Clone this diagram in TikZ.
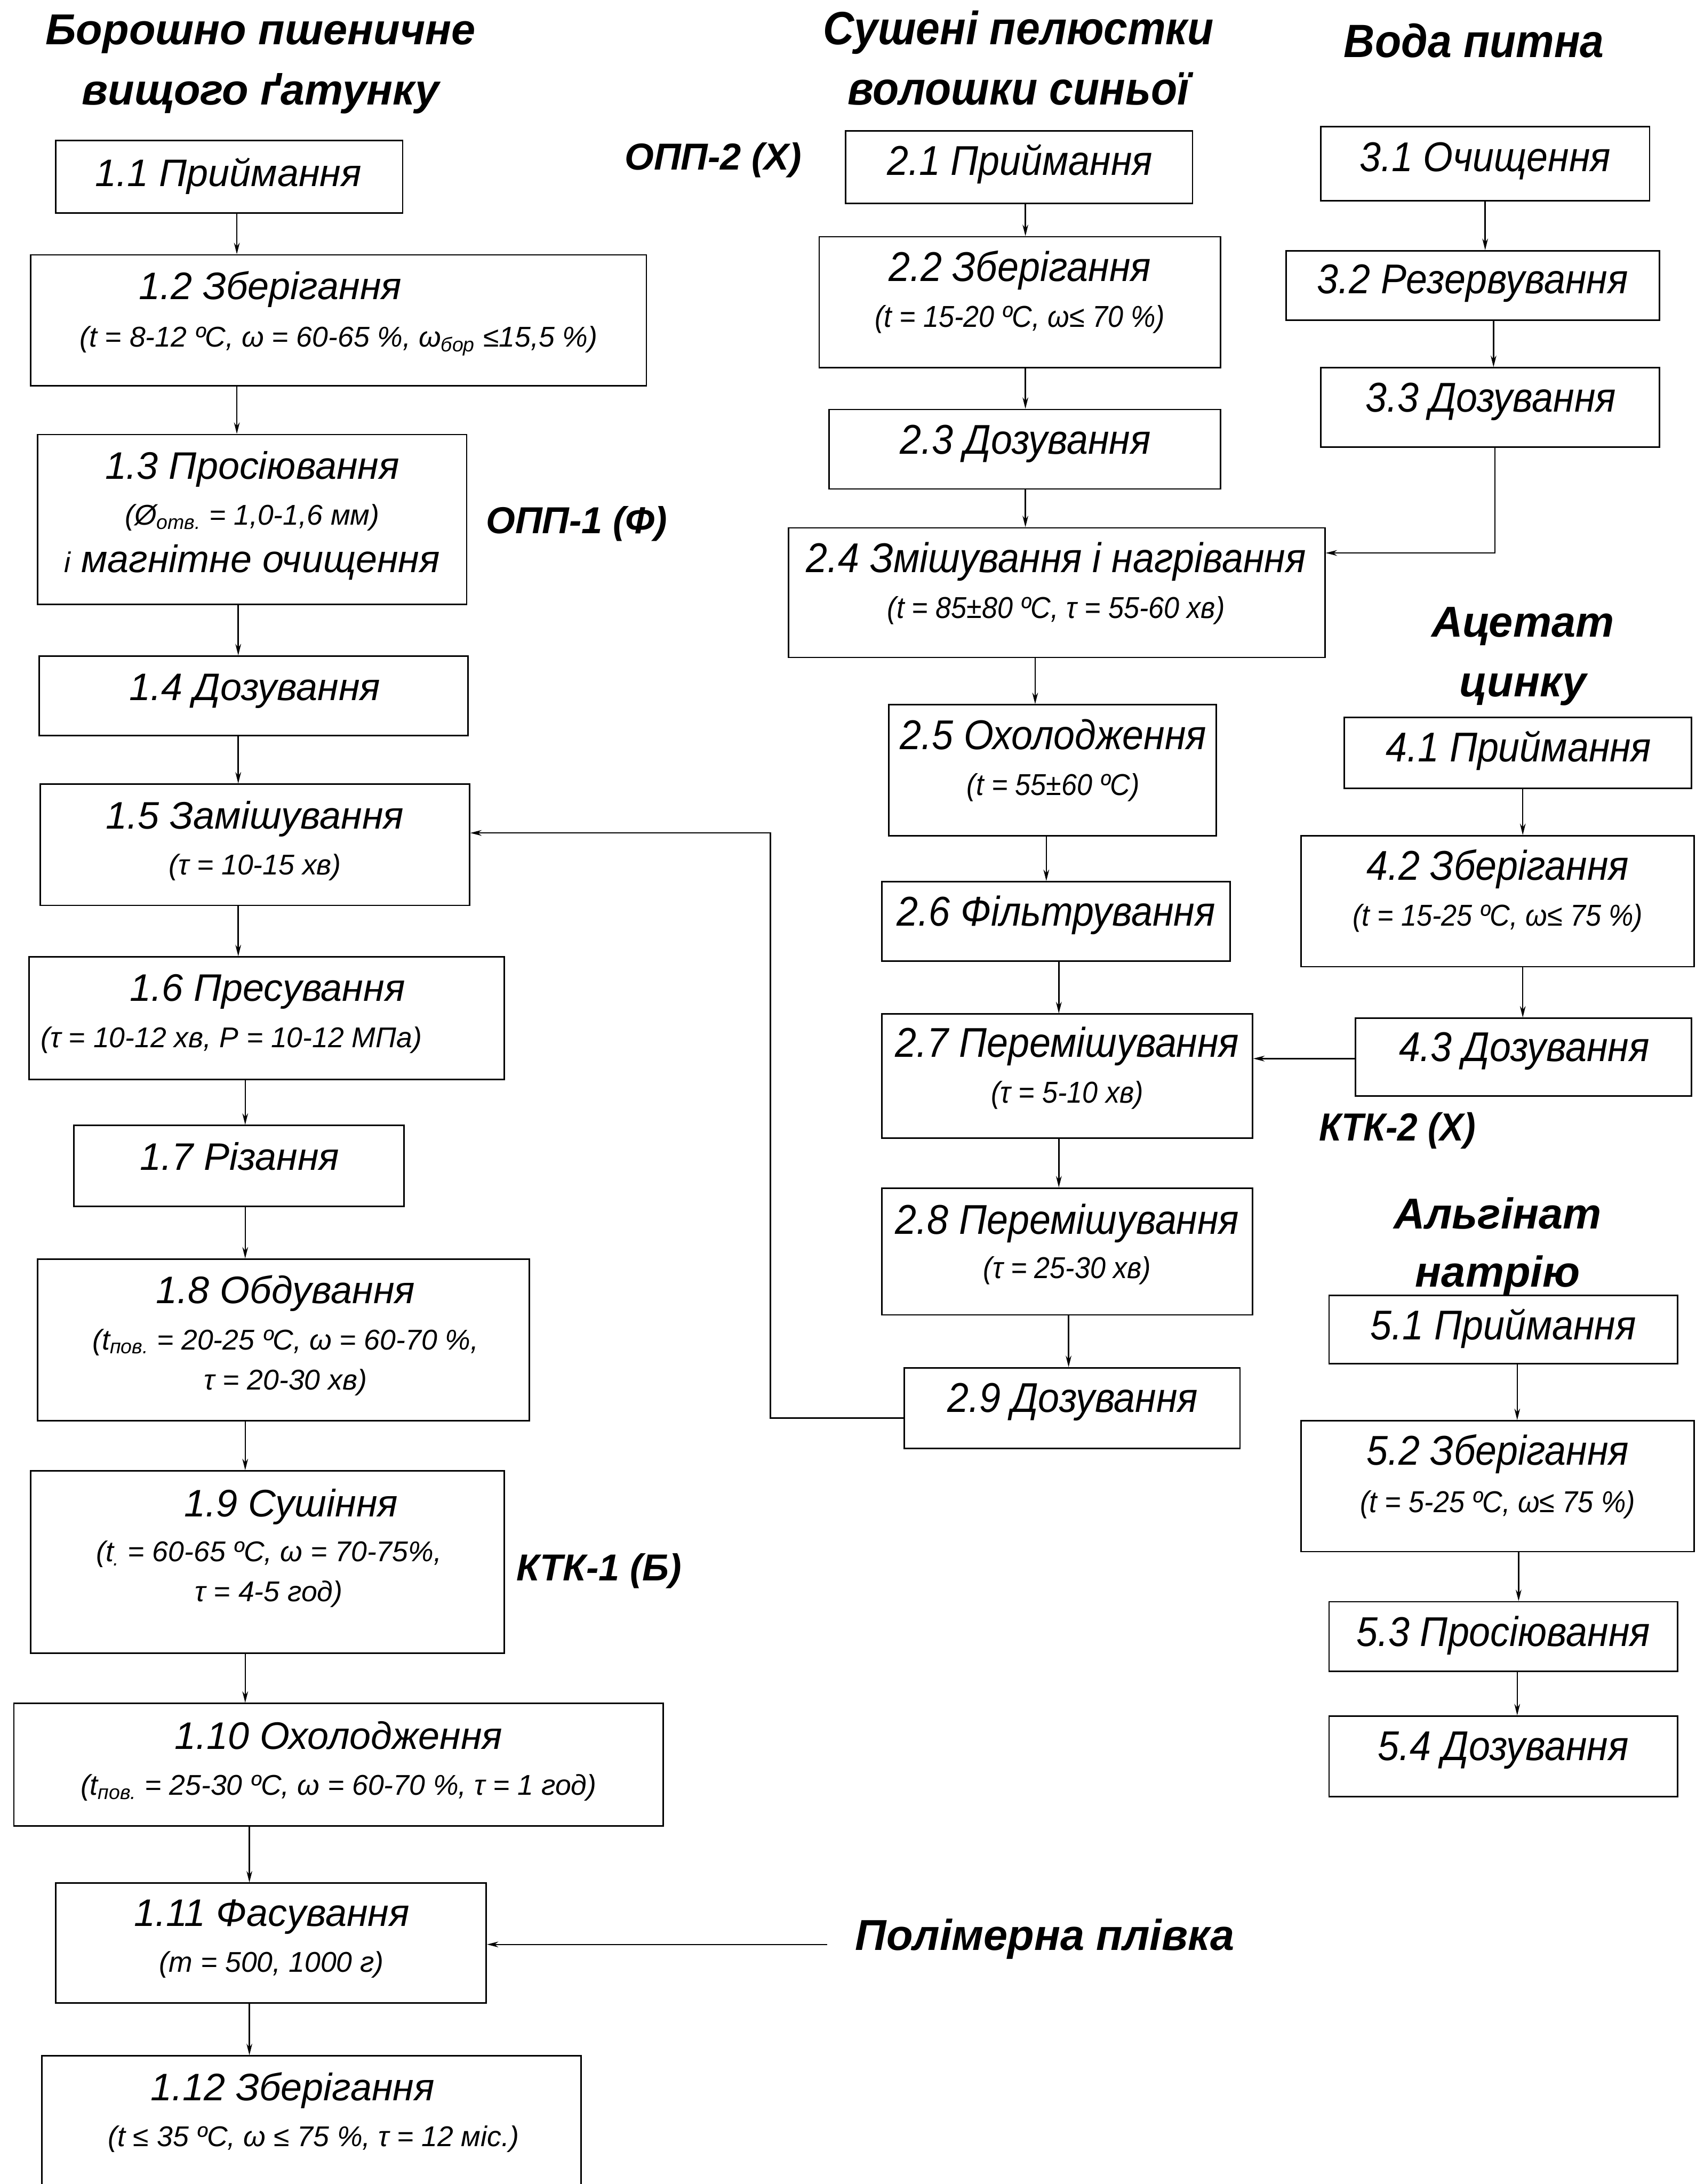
\documentclass[tikz,border=0pt]{standalone}
\usepackage{fontspec}
\setmainfont{Liberation Sans}
\newfontfamily\condfont{Liberation Sans}[FakeStretch=0.92]
\usetikzlibrary{fit,arrows.meta}

\tikzset{
  box/.style={draw,line width=0.9pt,inner sep=0pt},
  txt/.style={inner sep=0pt,text height=0.72em,text depth=0pt,yshift=-4pt},
  ttl/.style={txt,font=\fontsize{23.5}{28}\selectfont\itshape},
  sbt/.style={txt,font=\fontsize{17.5}{21}\selectfont\itshape},
  ttlc/.style={txt,font=\condfont\fontsize{25.5}{30}\selectfont\itshape},
  sbtc/.style={txt,font=\condfont\fontsize{18.5}{22}\selectfont\itshape},
  head/.style={txt,yshift=-1pt,font=\fontsize{26.5}{30}\selectfont\bfseries\itshape},
  headc/.style={txt,yshift=-1pt,font=\condfont\fontsize{28.6}{32}\selectfont\bfseries\itshape},
  codelbl/.style={txt,font=\fontsize{23}{28}\selectfont\bfseries\itshape},
  flow/.style={line width=0.8pt,-{Stealth[length=7pt,width=3.5pt]}}
}

\begin{document}
\begin{tikzpicture}[x=0.03cm,y=-0.03cm]
  \useasboundingbox (0,0) rectangle (1223,1568);
  \clip (0,0) rectangle (1223,1568);

  % headings
  \node[head]  (h1a) at (187,22)   {Борошно пшеничне};
  \node[head]  (h1b) at (187,65)   {вищого ґатунку};
  \node[headc] (h2a) at (731,22)   {Сушені пелюстки};
  \node[headc] (h2b) at (731,65)   {волошки синьої};
  \node[headc] (h3)  at (1058,31)  {Вода питна};
  \node[head]  (h4a) at (1093,447) {Ацетат};
  \node[head]  (h4b) at (1093,490) {цинку};
  \node[head]  (h5a) at (1075,872) {Альгінат};
  \node[head]  (h5b) at (1075,914) {натрію};
  \node[head]  (plenka) at (750,1390) {Полімерна плівка};

  \node[codelbl] (opp2) at (512,113)  {ОПП-2 (Х)};
  \node[codelbl] (opp1) at (414,374)  {ОПП-1 (Ф)};
  \node[codelbl] (ktk1) at (430,1126) {КТК-1 (Б)};
  \node[codelbl,font=\condfont\fontsize{24}{28}\selectfont\bfseries\itshape] (ktk2) at (1003,810) {КТК-2 (Х)};

  % flour line
  \node[box,fit={(40,101) (289,153)}] (n11) {};
  \node[ttl] (t11) at (164,125) {1.1 Приймання};
  \node[box,fit={(22,183) (464,277)}] (n12) {};
  \node[ttl] (t12) at (194,206) {1.2 Зберігання};
  \node[sbt] (s12) at (243,240) {(t = 8-12 ºC, ω = 60-65 \%, ω\textsubscript{бор} ≤15,5 \%)};
  \node[box,fit={(27,312) (335,434)}] (n13) {};
  \node[ttl] (t13) at (181,335) {1.3 Просіювання};
  \node[sbt] (s13) at (181,368) {(Ø\textsubscript{отв.} = 1,0-1,6 мм)};
  \node[ttl] (u13) at (181,402) {{\fontsize{17.5}{21}\selectfont і} магнітне очищення};
  \node[box,fit={(28,471) (336,528)}] (n14) {};
  \node[ttl] (t14) at (183,494) {1.4 Дозування};
  \node[box,fit={(29,563) (337,650)}] (n15) {};
  \node[ttl] (t15) at (183,586) {1.5 Замішування};
  \node[sbt] (s15) at (183,619) {(τ = 10-15 хв)};
  \node[box,fit={(21,687) (362,775)}] (n16) {};
  \node[ttl] (t16) at (192,710) {1.6 Пресування};
  \node[sbt] (s16) at (166,743) {(τ = 10-12 хв, P = 10-12 МПа)};
  \node[box,fit={(53,808) (290,866)}] (n17) {};
  \node[ttl] (t17) at (172,831) {1.7 Різання};
  \node[box,fit={(27,904) (380,1020)}] (n18) {};
  \node[ttl] (t18) at (205,927) {1.8 Обдування};
  \node[sbt] (s18) at (205,960) {(t\textsubscript{пов.} = 20-25 ºC, ω = 60-70 \%,};
  \node[sbt] (r18) at (205,989) {τ = 20-30 хв)};
  \node[box,fit={(22,1056) (362,1187)}] (n19) {};
  \node[ttl] (t19) at (209,1080) {1.9 Сушіння};
  \node[sbt] (s19) at (193,1112) {(t\textsubscript{.} = 60-65 ºC, ω = 70-75\%,};
  \node[sbt] (r19) at (193,1141) {τ = 4-5 год)};
  \node[box,fit={(10,1223) (476,1311)}] (n110) {};
  \node[ttl] (t110) at (243,1247) {1.10 Охолодження};
  \node[sbt] (s110) at (243,1280) {(t\textsubscript{пов.} = 25-30 ºC, ω = 60-70 \%, τ = 1 год)};
  \node[box,fit={(40,1352) (349,1438)}] (n111) {};
  \node[ttl] (t111) at (195,1374) {1.11 Фасування};
  \node[sbt] (s111) at (195,1407) {(m = 500, 1000 г)};
  \node[box,fit={(30,1476) (417,1575)}] (n112) {};
  \node[ttl] (t112) at (210,1499) {1.12 Зберігання};
  \node[sbt] (s112) at (225,1532) {(t ≤ 35 ºC, ω ≤ 75 \%, τ = 12 міс.)};

  % petals line
  \node[box,fit={(607,94) (856,146)}] (n21) {};
  \node[ttlc] (t21) at (732,117) {2.1 Приймання};
  \node[box,fit={(588,170) (876,264)}] (n22) {};
  \node[ttlc] (t22) at (732,193) {2.2 Зберігання};
  \node[sbtc] (s22) at (732,226) {(t = 15-20 ºC, ω≤ 70 \%)};
  \node[box,fit={(595,294) (876,351)}] (n23) {};
  \node[ttlc] (t23) at (736,317) {2.3 Дозування};
  \node[box,fit={(566,379) (951,472)}] (n24) {};
  \node[ttlc] (t24) at (758,402) {2.4 Змішування і нагрівання};
  \node[sbtc] (s24) at (758,435) {(t = 85±80 ºC, τ = 55-60 хв)};
  \node[box,fit={(638,506) (873,600)}] (n25) {};
  \node[ttlc] (t25) at (756,529) {2.5 Охолодження};
  \node[sbtc] (s25) at (756,562) {(t = 55±60 ºC)};
  \node[box,fit={(633,633) (883,690)}] (n26) {};
  \node[ttlc] (t26) at (758,656) {2.6 Фільтрування};
  \node[box,fit={(633,728) (899,817)}] (n27) {};
  \node[ttlc] (t27) at (766,750) {2.7 Перемішування};
  \node[sbtc] (s27) at (766,783) {(τ = 5-10 хв)};
  \node[box,fit={(633,853) (899,944)}] (n28) {};
  \node[ttlc] (t28) at (766,877) {2.8 Перемішування};
  \node[sbtc] (s28) at (766,909) {(τ = 25-30 хв)};
  \node[box,fit={(649,982) (890,1040)}] (n29) {};
  \node[ttlc] (t29) at (770,1005) {2.9 Дозування};

  % water line
  \node[box,fit={(948,91) (1184,144)}] (n31) {};
  \node[ttlc] (t31) at (1066,114) {3.1 Очищення};
  \node[box,fit={(923,180) (1191,230)}] (n32) {};
  \node[ttlc] (t32) at (1057,202) {3.2 Резервування};
  \node[box,fit={(948,264) (1191,321)}] (n33) {};
  \node[ttlc] (t33) at (1070,287) {3.3 Дозування};

  % zinc acetate line
  \node[box,fit={(965,515) (1214,566)}] (n41) {};
  \node[ttlc] (t41) at (1090,538) {4.1 Приймання};
  \node[box,fit={(934,600) (1216,694)}] (n42) {};
  \node[ttlc] (t42) at (1075,623) {4.2 Зберігання};
  \node[sbtc] (s42) at (1075,656) {(t = 15-25 ºC, ω≤ 75 \%)};
  \node[box,fit={(973,731) (1214,787)}] (n43) {};
  \node[ttlc] (t43) at (1094,753) {4.3 Дозування};

  % sodium alginate line
  \node[box,fit={(954,930) (1204,979)}] (n51) {};
  \node[ttlc] (t51) at (1079,953) {5.1 Приймання};
  \node[box,fit={(934,1020) (1216,1114)}] (n52) {};
  \node[ttlc] (t52) at (1075,1043) {5.2 Зберігання};
  \node[sbtc] (s52) at (1075,1077) {(t = 5-25 ºC, ω≤ 75 \%)};
  \node[box,fit={(954,1150) (1204,1200)}] (n53) {};
  \node[ttlc] (t53) at (1079,1173) {5.3 Просіювання};
  \node[box,fit={(954,1232) (1204,1290)}] (n54) {};
  \node[ttlc] (t54) at (1079,1255) {5.4 Дозування};

  % vertical flows
  \foreach \a/\b/\x in {n11/n12/170, n12/n13/170, n13/n14/171, n14/n15/171,
      n15/n16/171, n16/n17/176, n17/n18/176, n18/n19/176, n19/n110/176,
      n110/n111/179, n111/n112/179,
      n21/n22/736, n22/n23/736, n23/n24/736, n24/n25/743, n25/n26/751,
      n26/n27/760, n27/n28/760, n28/n29/767,
      n31/n32/1066, n32/n33/1072, n41/n42/1093, n42/n43/1093,
      n51/n52/1089, n52/n53/1090, n53/n54/1089}
    \draw[flow] (\x,0 |- \a.south) -- (\x,0 |- \b.north);

  % side flows
  \draw[flow] (1073,0 |- n33.south) |- (n24.east |- 0,397);
  \draw[flow] (n43.west |- 0,760) -- (n27.east |- 0,760);
  \draw[flow] (n29.west |- 0,1018) -| (553,598) -- (n15.east |- 0,598);
  \draw[flow,shorten <=17pt] (plenka.west |- 0,1396) -- (n111.east |- 0,1396);
\end{tikzpicture}
\end{document}
